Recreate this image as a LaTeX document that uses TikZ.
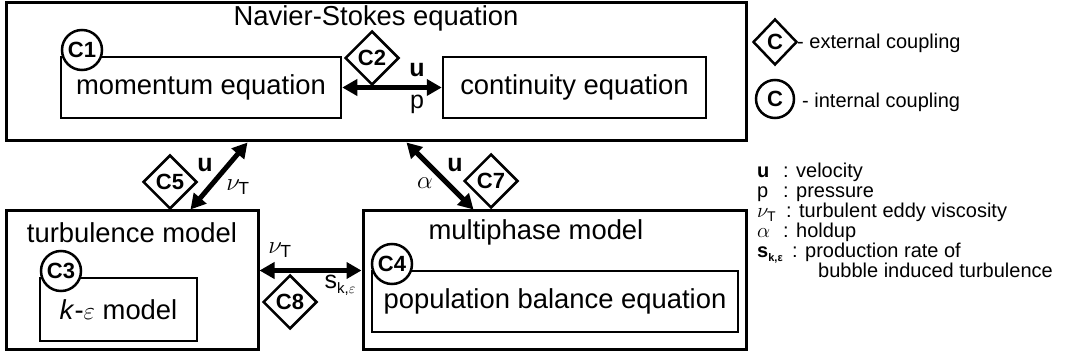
\documentclass[tikz,border=0pt]{standalone}
\usepackage{fontspec}
\setmainfont{Liberation Sans}
\usetikzlibrary{shapes.geometric, arrows.meta}
\begin{document}
\begin{tikzpicture}[x=1pt, y=-1pt,
  outer/.style={draw, line width=3pt, rectangle, inner sep=0pt},
  inner/.style={draw, line width=2.5pt, rectangle, inner sep=0pt, font=\fontsize{27.4}{30}\selectfont},
  circ/.style={draw, circle, line width=2.5pt, fill=white, minimum size=40pt, inner sep=0pt, font=\fontsize{22}{24}\selectfont\bfseries},
  dia/.style={draw, diamond, line width=2.5pt, fill=white, minimum width=54pt, minimum height=54pt, inner sep=0pt, font=\fontsize{22}{24}\selectfont\bfseries},
  link/.style={line width=5pt, {Triangle[length=15pt,width=16pt]}-{Triangle[length=15pt,width=16pt]}},
  title/.style={font=\fontsize{27.4}{30}\selectfont, inner sep=0pt},
  lbl/.style={font=\fontsize{25}{27}\selectfont, inner sep=0pt},
  leg/.style={font=\fontsize{20}{22}\selectfont, inner sep=0pt, anchor=base west},
]
\useasboundingbox (0,0) rectangle (1072,358);

% boxes
\node[outer, minimum width=740pt, minimum height=138pt] (ns) at (376,72) {};
\node[title] (nst) at (376,18) {Navier-Stokes equation};
\node[inner, minimum width=280pt, minimum height=61pt] (mom) at (201,87.5) {momentum equation};
\node[inner, minimum width=263pt, minimum height=61pt] (cont) at (574.5,87.5) {continuity equation};

\node[outer, minimum width=252pt, minimum height=139pt] (turb) at (132,280.5) {};
\node[title] (turbt) at (132,233) {turbulence model};
\node[inner, minimum width=157pt, minimum height=63pt] (ke) at (118.5,309.5) {\textit{k}-$\varepsilon$ model};

\node[outer, minimum width=383pt, minimum height=139pt] (multi) at (554.5,280.5) {};
\node[title] (multit) at (536,232) {multiphase model};
\node[inner, minimum width=366pt, minimum height=61pt] (pop) at (555,301.5) {population balance equation};

% internal couplings
\node[circ] (c1) at (82,50) {C1};
\node[circ] (c3) at (61,271) {C3};
\node[circ] (c4) at (392,264) {C4};

% connectors
\draw[link] (mom.east) -- (cont.west);
\draw[link] ([xshift=243pt]ns.south west) -- ([xshift=186pt]turb.north west);
\draw[link] ([xshift=402pt]ns.south west) -- ([xshift=112pt]multi.north west);
\draw[link] ([yshift=-61pt]turb.north east) -- ([yshift=-61pt]multi.north west);

% external couplings
\node[dia] (c2) at (372,58) {C2};
\node[dia] (c5) at (170,182) {C5};
\node[dia] (c7) at (491,181) {C7};
\node[dia] (c8) at (290,302) {C8};

% connector labels
\node[lbl] (l1) at (417,70) {\textbf{u}};
\node[lbl] (l2) at (417,104) {p};
\node[lbl] (l3) at (205,165) {\textbf{u}};
\node[lbl] (l4) at (238,187) {$\nu_{\mathrm{T}}$};
\node[lbl] (l5) at (455,165) {\textbf{u}};
\node[lbl] (l6) at (425,183) {$\alpha$};
\node[lbl] (l7) at (280,250) {$\nu_{\mathrm{T}}$};
\node[lbl] (l8) at (340,285) {s\raisebox{-0.35ex}{\fontsize{15}{16}\selectfont k,$\varepsilon$}};

% legend
\node[dia, minimum width=44pt, minimum height=46pt] (lgd) at (775,42) {C};
\node[leg, anchor=west] (lgdt) at (797,43) {- external coupling};
\node[circ, minimum size=38pt] (lgc) at (775,99) {C};
\node[leg, anchor=west] (lgct) at (802,102) {- internal coupling};

\node[leg] (k1) at (757,178) {\textbf{u}};
\node[leg] (v1) at (783,178) {: velocity};
\node[leg] (k2) at (757,198) {p};
\node[leg] (v2) at (783,198) {: pressure};
\node[leg] (k3) at (757,218) {$\nu_{\mathrm{T}}$};
\node[leg] (v3) at (786,218) {: turbulent eddy viscosity};
\node[leg] (k4) at (757,238) {$\alpha$};
\node[leg] (v4) at (783,238) {: holdup};
\node[leg] (k5) at (757,258) {\textbf{s}\raisebox{-0.3ex}{\fontsize{11}{12}\selectfont\bfseries k,ε}};
\node[leg] (v5) at (792,258) {: production rate of};
\node[leg] (v6) at (818,278) {bubble induced turbulence};
\end{tikzpicture}
\end{document}
